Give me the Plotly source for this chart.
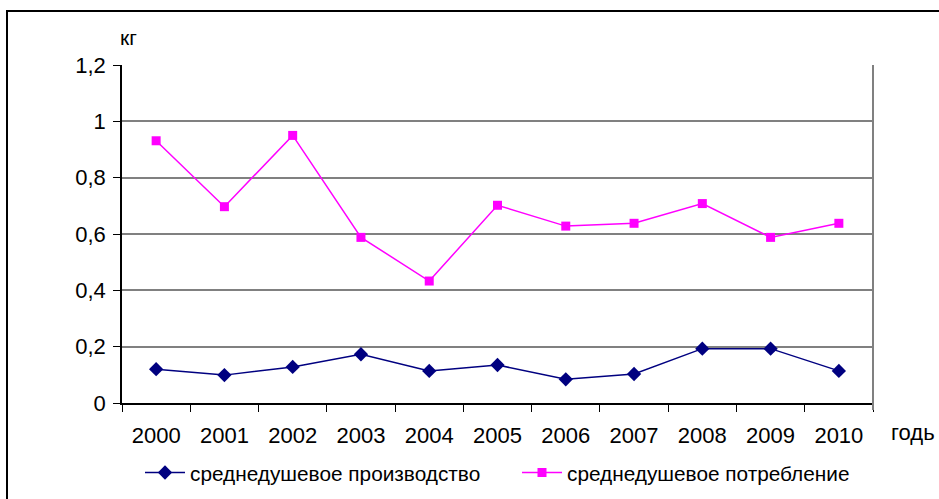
import plotly.graph_objects as go

years = ["2000", "2001", "2002", "2003", "2004", "2005", "2006", "2007", "2008", "2009", "2010"]
production = [0.120, 0.099, 0.128, 0.173, 0.114, 0.135, 0.084, 0.103, 0.193, 0.193, 0.114]
consumption = [0.931, 0.697, 0.950, 0.588, 0.433, 0.702, 0.628, 0.638, 0.708, 0.588, 0.638]
y_ticks = [0, 0.2, 0.4, 0.6, 0.8, 1, 1.2]
y_ticklabels = ["0", "0,2", "0,4", "0,6", "0,8", "1", "1,2"]

FONT = "Liberation Sans, Arial, sans-serif"

fig = go.Figure()
fig.add_trace(go.Scatter(
    x=years, y=production, mode="lines+markers",
    name="среднедушевое производство", legend="legend",
    line=dict(color="#000080", width=1.5),
    marker=dict(symbol="diamond", size=11, color="#000080"),
))
fig.add_trace(go.Scatter(
    x=years, y=consumption, mode="lines+markers",
    name="среднедушевое потребление", legend="legend2",
    line=dict(color="#FF00FF", width=1.5),
    marker=dict(symbol="square", size=9, color="#FF00FF"),
))

leg_common = dict(
    orientation="h", xref="container", yref="container",
    y=1 - 473 / 499, xanchor="left", yanchor="middle",
    bgcolor="rgba(0,0,0,0)", itemwidth=40,
)

fig.update_layout(
    width=939, height=499,
    margin=dict(l=122, r=66, t=65, b=96, autoexpand=False),
    paper_bgcolor="white", plot_bgcolor="white",
    font=dict(family=FONT, size=22, color="black"),
    showlegend=True,
    legend=dict(x=140 / 939, font=dict(size=20.8, family=FONT), **leg_common),
    legend2=dict(x=517 / 939, font=dict(size=20.8, family=FONT), **leg_common),
    xaxis=dict(
        type="category", tickson="boundaries", ticks="outside", ticklen=7,
        tickcolor="black", showline=True, linecolor="black", linewidth=1.5,
        showgrid=False, tickfont=dict(size=22, family=FONT),
        ticklabelstandoff=12,
        range=[-0.5, 10.5], fixedrange=True,
    ),
    yaxis=dict(
        range=[0, 1.2], tickvals=y_ticks, ticktext=y_ticklabels,
        ticks="outside", ticklen=7, tickcolor="black",
        showline=True, linecolor="black", linewidth=1.5,
        showgrid=True, gridcolor="#808080", gridwidth=1.5,
        zeroline=False, tickfont=dict(size=22, family=FONT),
        ticklabelstandoff=3,
    ),
    annotations=[
        dict(text="кг", xref="paper", yref="paper", x=(128 - 122) / 751, y=(403 - 38) / 338,
             xanchor="center", yanchor="middle", showarrow=False,
             font=dict(size=21, family=FONT)),
        dict(text="годь", xref="paper", yref="paper", x=1 + (889 - 873) / 751, y=(403 - 432) / 338,
             xanchor="left", yanchor="middle", showarrow=False,
             font=dict(size=22, family=FONT)),
    ],
    shapes=[
        dict(type="line", xref="paper", yref="paper", x0=1, x1=1, y0=-7 / 338, y1=1,
             line=dict(color="#808080", width=2)),
        dict(type="rect", xref="paper", yref="paper",
             x0=(7 - 122) / 751, x1=1 + (960 - 873) / 751,
             y0=(403 - 520) / 338, y1=(403 - 11) / 338,
             line=dict(color="black", width=2), fillcolor="rgba(0,0,0,0)", layer="below"),
    ],
)

fig.write_html("out.html")
